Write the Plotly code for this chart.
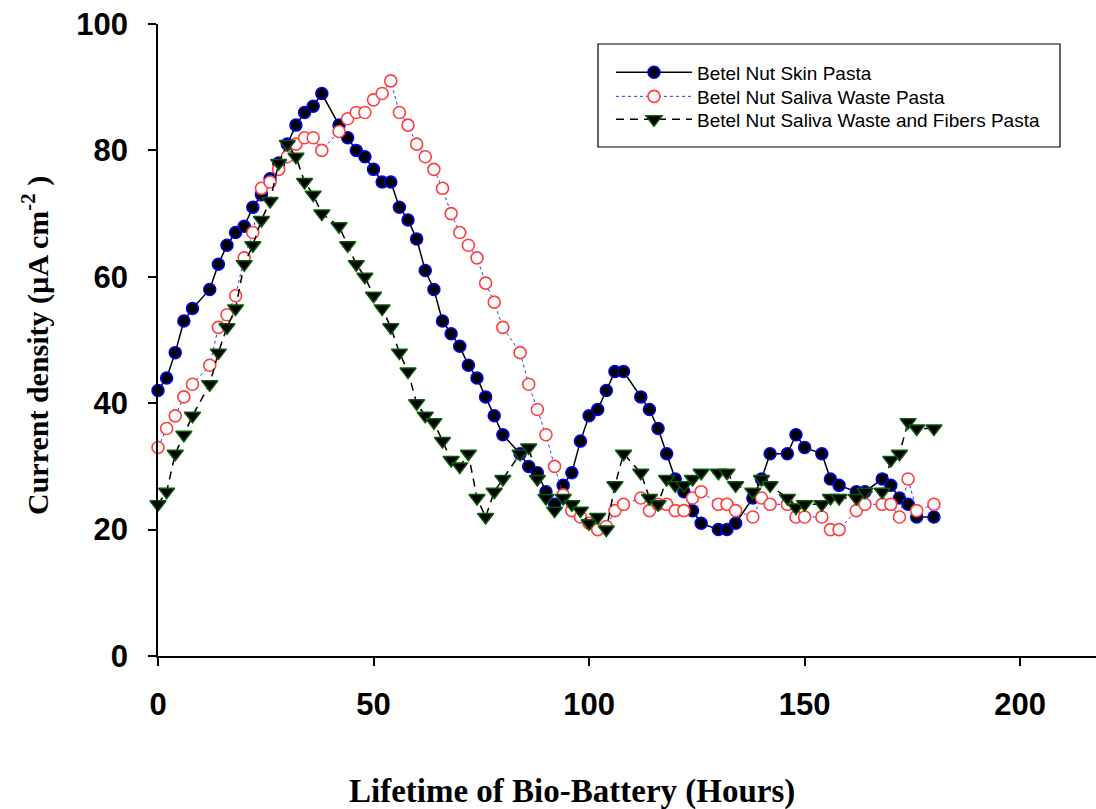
import plotly.graph_objects as go

hours = [0, 2, 4, 6, 8, 12, 14, 16, 18, 20, 22, 24, 26, 28, 30, 32, 34, 36, 38,
         42, 44, 46, 48, 50, 52, 54, 56, 58, 60, 62, 64, 66, 68, 70, 72, 74, 76, 78, 80,
         84, 86, 88, 90, 92, 94, 96, 98, 100, 102, 104, 106, 108,
         112, 114, 116, 118, 120, 122, 124, 126, 130, 132, 134, 138, 140, 142,
         146, 148, 150, 154, 156, 158, 162, 164, 168, 170, 172, 174, 176, 180]

skin = [42, 44, 48, 53, 55, 58, 62, 65, 67, 68, 71, 73, 75.5, 78, 81, 84, 86, 87, 89,
        84, 82, 80, 79, 77, 75, 75, 71, 69, 66, 61, 58, 53, 51, 49, 46, 44, 41, 38, 35,
        32, 30, 29, 26, 24, 27, 29, 34, 38, 39, 42, 45, 45,
        41, 39, 36, 32, 28, 26, 23, 21, 20, 20, 21, 25, 28, 32,
        32, 35, 33, 32, 28, 27, 26, 26, 28, 27, 25, 24, 22, 22]

saliva = [33, 36, 38, 41, 43, 46, 52, 54, 57, 63, 67, 74, 75, 77, 79, 81, 82, 82, 80,
          83, 85, 86, 86, 88, 89, 91, 86, 84, 81, 79, 77, 74, 70, 67, 65, 63, 59, 56, 52,
          48, 43, 39, 35, 30, 25.5, 23, 22, 21, 20, 20.5, 23, 24,
          25, 23, 24, 24, 23, 23, 25, 26, 24, 24, 23, 22, 25, 24,
          24, 22, 22, 22, 20, 20, 23, 24, 24, 24, 22, 28, 23, 24]

fibers = [24, 26, 32, 35, 38, 43, 48, 52, 55, 62, 65, 69, 72, 78, 81, 79, 75, 73, 70,
          68, 65, 62, 60, 57, 55, 52, 48, 45, 40, 38, 37, 34, 31, 30, 32, 25, 22, 26, 28,
          32, 33, 28, 25, 23, 25, 24, 23, 21, 22, 20, 27, 32,
          29, 25, 24, 28, 27, 27, 28, 29, 29, 29, 27, 26, 28, 27,
          25, 23.5, 24, 24, 25, 25, 25, 26, 26, 31, 32, 37, 36, 36]

names = ["Betel Nut Skin Pasta", "Betel Nut Saliva Waste Pasta",
         "Betel Nut Saliva Waste and Fibers Pasta"]

x_ticks = [0, 50, 100, 150, 200]
y_ticks = [0, 20, 40, 60, 80, 100]

fig = go.Figure()
fig.add_trace(go.Scatter(
    x=hours, y=skin, name=names[0], mode="lines+markers", cliponaxis=False,
    legend="legend",
    line=dict(color="black", width=1.5),
    marker=dict(symbol="circle", size=12, color="black",
                line=dict(color="#0000ff", width=1.5))))
fig.add_trace(go.Scatter(
    x=hours, y=saliva, name=names[1], mode="lines+markers", cliponaxis=False,
    legend="legend2",
    line=dict(color="#3333ff", width=1, dash="dot"),
    marker=dict(symbol="circle", size=12, color="white",
                line=dict(color="#ff4040", width=1.6))))
fig.add_trace(go.Scatter(
    x=hours, y=fibers, name=names[2], mode="lines+markers", cliponaxis=False,
    legend="legend3",
    line=dict(color="black", width=1.5, dash="8px,6px"),
    marker=dict(symbol="triangle-down", size=14, color="black",
                line=dict(color="#0a5a0a", width=1.5))))

tick_font = dict(family="Liberation Sans, Arial, sans-serif", size=31,
                 color="black", weight="bold")
axis_common = dict(showline=True, linecolor="black", linewidth=1.5,
                   ticks="outside", ticklen=8, tickwidth=1.5, tickcolor="black",
                   showgrid=False, zeroline=False, tickfont=tick_font)

W_PLOT = 938.0
H_PLOT = 632.0
def px_x(p):
    return (p - 158) / W_PLOT
def px_y(p):
    return (656 - p) / H_PLOT

legend_font = dict(family="Liberation Sans, Arial, sans-serif", size=19, color="black")
def legend_at(top_px):
    return dict(x=px_x(611), y=px_y(top_px), xanchor="left", yanchor="top",
                bgcolor="rgba(0,0,0,0)", borderwidth=0, font=legend_font,
                itemwidth=76)

fig.update_layout(
    width=1096, height=809,
    margin=dict(l=158, r=0, t=24, b=153, autoexpand=False),
    paper_bgcolor="white", plot_bgcolor="white",
    showlegend=True,
    legend=legend_at(53.5),
    legend2=legend_at(77.5),
    legend3=legend_at(100.5),
    shapes=[dict(type="rect", xref="paper", yref="paper",
                 x0=px_x(598), x1=px_x(1060), y0=px_y(147), y1=px_y(44),
                 line=dict(color="black", width=1.2), fillcolor="white",
                 layer="above")],
    xaxis=dict(range=[0, 217.6], tickvals=x_ticks, ticktext=[str(v) for v in x_ticks],
               ticklabelstandoff=12, **axis_common),
    yaxis=dict(range=[0, 100], tickvals=y_ticks, ticktext=[str(v) for v in y_ticks],
               ticklabelstandoff=14, **axis_common),
    annotations=[
        dict(text="Lifetime of Bio-Battery (Hours)", xref="paper", yref="paper",
             x=px_x(572), y=px_y(791), showarrow=False,
             xanchor="center", yanchor="middle",
             font=dict(family="Liberation Serif, Times New Roman, serif", size=33,
                       color="black", weight="bold")),
        dict(text="Current density (µA cm<sup>-2</sup> )", xref="paper", yref="paper",
             x=px_x(35), y=px_y(346), showarrow=False, textangle=-90,
             xanchor="center", yanchor="middle",
             font=dict(family="Liberation Serif, Times New Roman, serif", size=30,
                       color="black", weight="bold")),
    ],
)

fig.write_html("out.html")
